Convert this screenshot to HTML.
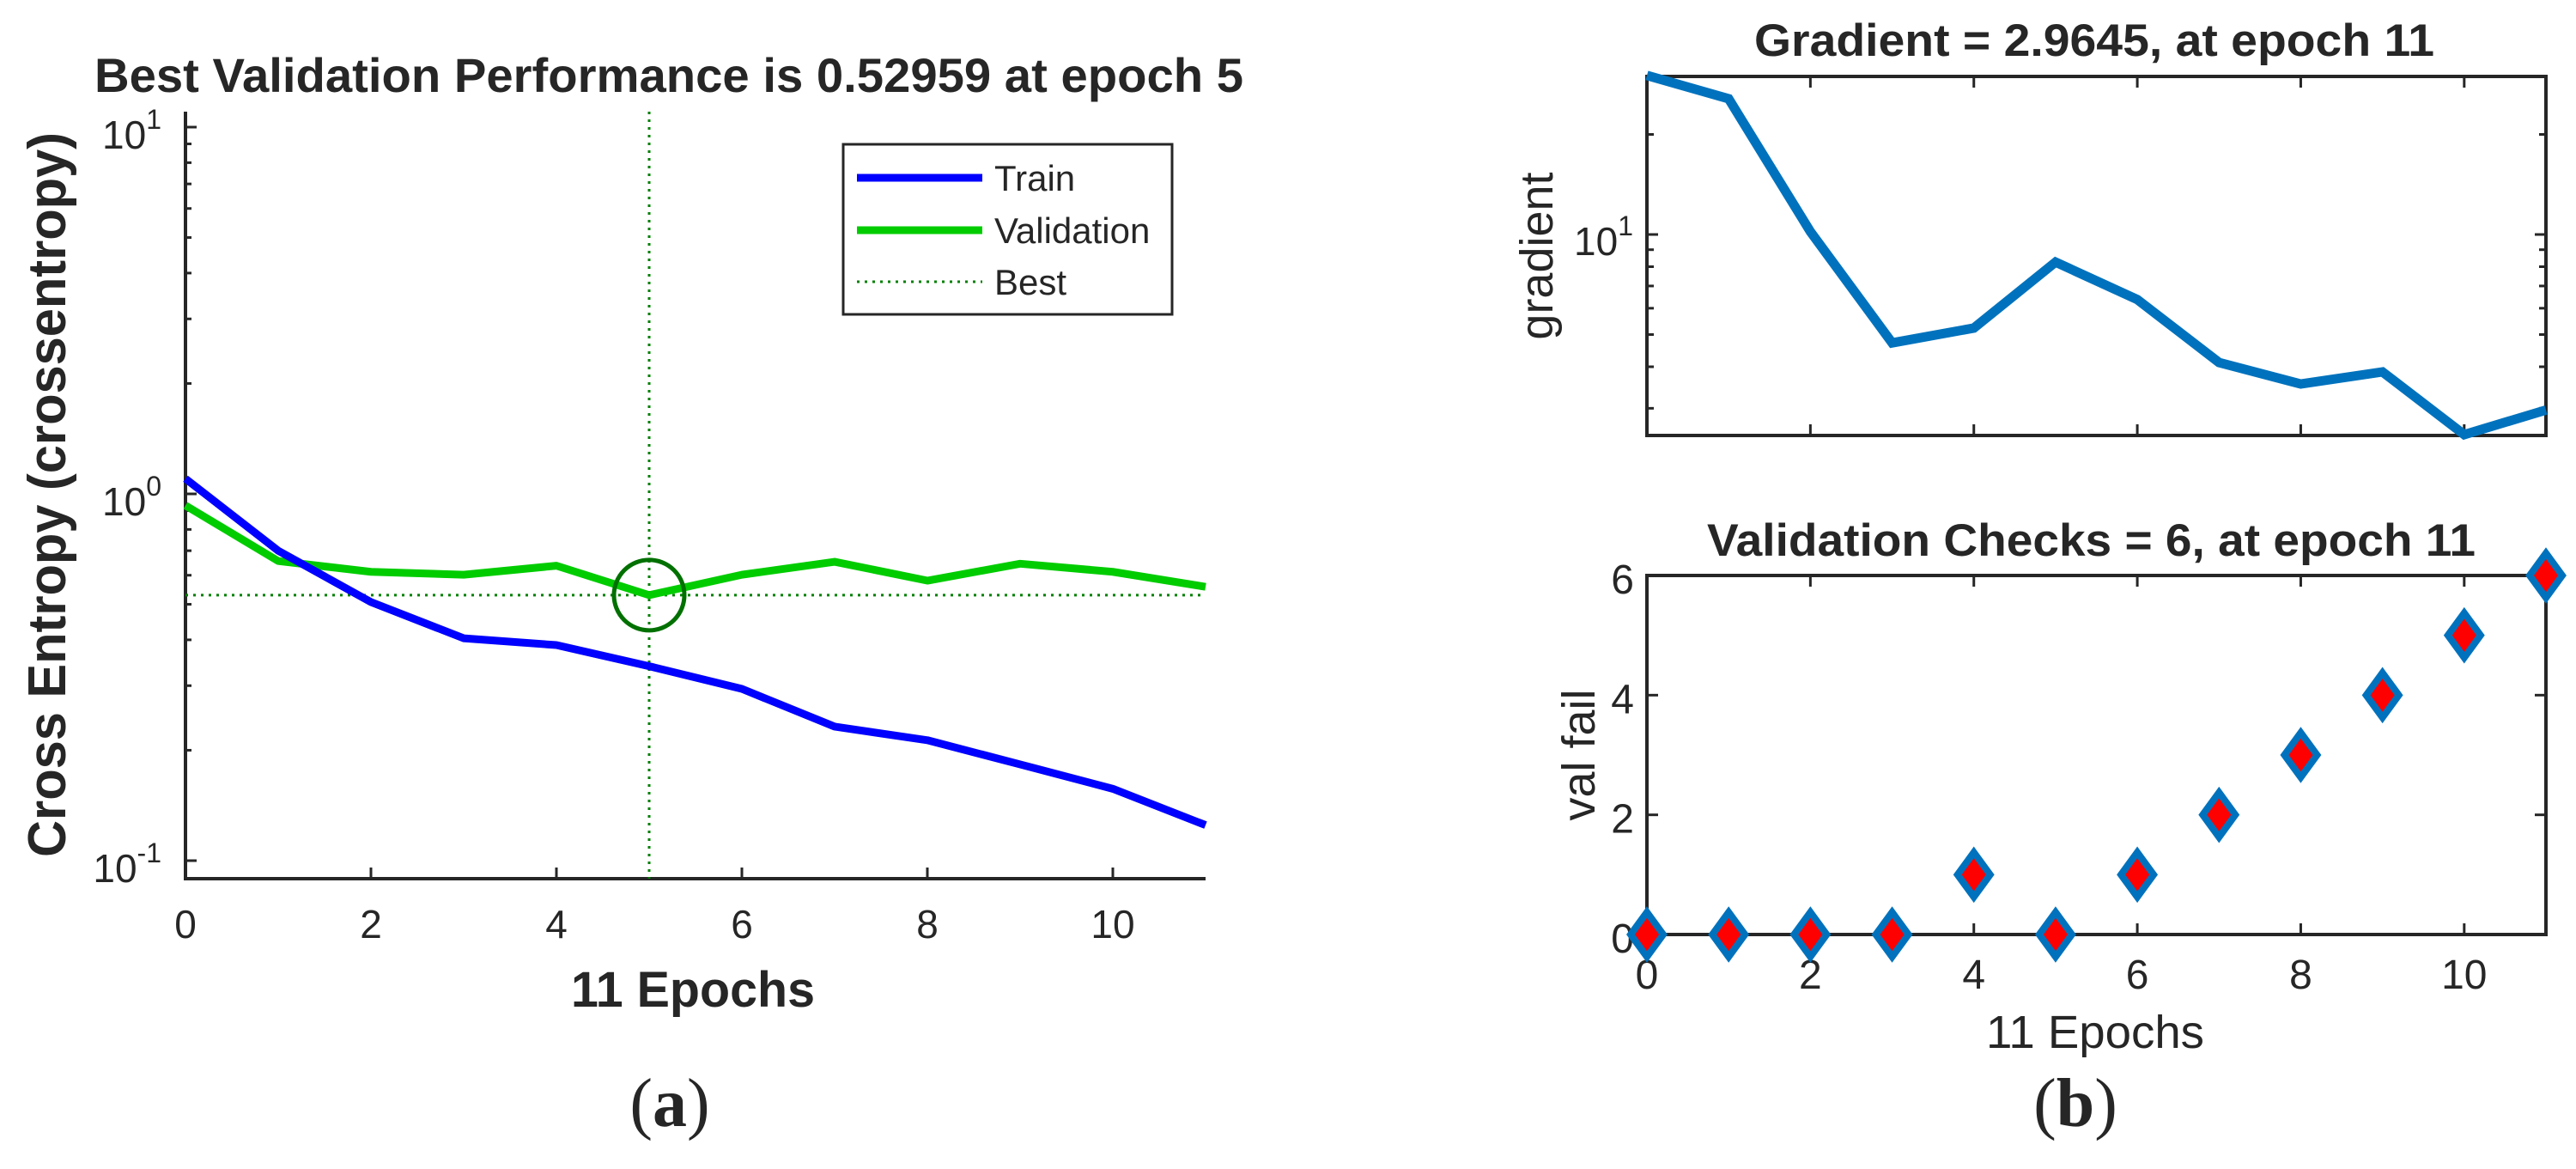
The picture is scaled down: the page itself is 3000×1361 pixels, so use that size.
<!DOCTYPE html>
<html><head><meta charset="utf-8"><style>
html,body{margin:0;padding:0;background:#fff}
svg{display:block}
text{font-family:"Liberation Sans",Arial,sans-serif;fill:#262626}
</style></head><body>
<svg id="fig" width="3000" height="1361" viewBox="0 0 3000 1361" xmlns="http://www.w3.org/2000/svg">
<g id="pa"></g>
<g id="pg"></g>
<g id="pv"></g>
</svg>
<script>
const epochs=[0,1,2,3,4,5,6,7,8,9,10,11];
const trainPerf=[1.10,0.70,0.507,0.404,0.387,0.339,0.294,0.232,0.213,0.183,0.157,0.125];
const valPerf=[0.93,0.656,0.613,0.602,0.637,0.52959,0.602,0.653,0.58,0.645,0.613,0.558];
const bestEpoch=5;
const bestPerf=0.52959;
const gradVals=[30.1,25.6,10.2,4.72,5.23,8.26,6.37,4.12,3.55,3.86,2.50,2.9645];
const valFail=[0,0,0,0,1,0,1,2,3,4,5,6];
const xTicks=[0,2,4,6,8,10];
const logTicksA=[-1,0,1];
const valTicks=[0,2,4,6];

const NS="http://www.w3.org/2000/svg";
function mk(parent,tag,attrs,txt){const e=document.createElementNS(NS,tag);for(const k in attrs)e.setAttribute(k,attrs[k]);if(txt!==undefined)e.textContent=txt;parent.appendChild(e);return e;}
const AX="#262626";

/* ---------- Panel (a) ---------- */
const pa=document.getElementById('pa');
const aL=216,aR=1404,aT=130,aB=1023;
const ax=v=>aL+(v-0)*(aR-aL)/11;
const ay=v=>575-Math.log10(v)*427;
for(let d=-1;d<=0;d++){for(let m=2;m<=9;m++){const y=ay(m*Math.pow(10,d));
 const t=mk(pa,'line',{x1:aL,x2:aL+7,y1:y,y2:y,stroke:AX,'stroke-width':3});
 }}
logTicksA.forEach(p=>{const y=ay(Math.pow(10,p));
 const t=mk(pa,'line',{x1:aL,x2:aL+13,y1:y,y2:y,stroke:AX,'stroke-width':3});
 
 const lb=mk(pa,'text',{x:188,y:y+25,'text-anchor':'end','font-size':46});
 
 lb.appendChild(document.createTextNode('10'));
 mk(lb,'tspan',{dy:-23,'font-size':32},String(p));});
xTicks.forEach(v=>{const x=ax(v);
 const t=mk(pa,'line',{x1:x,x2:x,y1:aB,y2:aB-13,stroke:AX,'stroke-width':3});
 
 const lb=mk(pa,'text',{x:x,y:1092,'text-anchor':'middle','font-size':46},String(v));
 });
let e=mk(pa,'path',{d:`M${aL},${aT} V${aB} H${aR}`,fill:'none',stroke:AX,'stroke-width':4});

e=mk(pa,'line',{x1:ax(bestEpoch),x2:ax(bestEpoch),y1:aT,y2:aB,stroke:'#008000','stroke-width':3,'stroke-dasharray':'3 6'});

e=mk(pa,'line',{x1:aL,x2:aR,y1:ay(bestPerf),y2:ay(bestPerf),stroke:'#008000','stroke-width':3,'stroke-dasharray':'3 6'});

e=mk(pa,'polyline',{points:epochs.map((x,i)=>ax(x)+','+ay(valPerf[i])).join(' '),fill:'none',stroke:'#00CC00','stroke-width':9,'stroke-linejoin':'round'});

e=mk(pa,'polyline',{points:epochs.map((x,i)=>ax(x)+','+ay(trainPerf[i])).join(' '),fill:'none',stroke:'#0000FF','stroke-width':9,'stroke-linejoin':'round'});

e=mk(pa,'circle',{cx:ax(bestEpoch),cy:ay(bestPerf),r:41,fill:'none',stroke:'#007000','stroke-width':5});

e=mk(pa,'text',{x:110,y:107,'font-size':56,'font-weight':'bold',fill:'#000',textLength:1338,lengthAdjust:'spacingAndGlyphs'},'Best Validation Performance is 0.52959 at epoch 5');

e=mk(pa,'text',{x:0,y:0,'font-size':62,'font-weight':'bold','text-anchor':'middle',transform:'translate(76,576) rotate(-90)',textLength:844,lengthAdjust:'spacingAndGlyphs'},'Cross Entropy  (crossentropy)');

e=mk(pa,'text',{x:807,y:1172,'font-size':58,'font-weight':'bold','text-anchor':'middle',textLength:284,lengthAdjust:'spacingAndGlyphs'},'11 Epochs');

e=mk(pa,'text',{x:780,y:1311,'font-size':80,'text-anchor':'middle',style:'font-family:"Liberation Serif",serif',fill:'#000'});

e.appendChild(document.createTextNode('('));mk(e,'tspan',{'font-weight':'bold'},'a');e.appendChild(document.createTextNode(')'));
const lg=mk(pa,'g',{});

e=mk(lg,'rect',{x:982,y:168,width:383,height:198,fill:'#fff',stroke:AX,'stroke-width':3});

const legItems=[['Train','#0000FF',207,false],['Validation','#00CC00',268,false],['Best','#008000',328,true]];
legItems.forEach(([n,c,y,dot])=>{
 const l=mk(lg,'line',dot?{x1:998,x2:1144,y1:y,y2:y,stroke:c,'stroke-width':3,'stroke-dasharray':'3 6'}:{x1:998,x2:1144,y1:y,y2:y,stroke:c,'stroke-width':9});
 
 const t=mk(lg,'text',{x:1158,y:y+15,'font-size':42,fill:'#000'},n);
 });

/* ---------- Panel (b) top: gradient ---------- */
const pg=document.getElementById('pg');
const bL=1918,bR=2965,gT=89,gB=507;
const bx=v=>bL+v*(bR-bL)/11;
const gy=v=>273-Math.log10(v/10)*387;
const gMinor=[3,4,5,6,7,8,9,20];
gMinor.forEach(v=>{const y=gy(v);
 e=mk(pg,'line',{x1:bL,x2:bL+8,y1:y,y2:y,stroke:AX,'stroke-width':3});
 
 e=mk(pg,'line',{x1:bR,x2:bR-8,y1:y,y2:y,stroke:AX,'stroke-width':3});
 });
[10].forEach(v=>{const y=gy(v);
 e=mk(pg,'line',{x1:bL,x2:bL+13,y1:y,y2:y,stroke:AX,'stroke-width':3});
 
 e=mk(pg,'line',{x1:bR,x2:bR-13,y1:y,y2:y,stroke:AX,'stroke-width':3});
 
 const lb=mk(pg,'text',{x:1902,y:y+24,'text-anchor':'end','font-size':46});
 
 lb.appendChild(document.createTextNode('10'));mk(lb,'tspan',{dy:-23,'font-size':32},'1');});
xTicks.forEach(v=>{const x=bx(v);
 e=mk(pg,'line',{x1:x,x2:x,y1:gB,y2:gB-13,stroke:AX,'stroke-width':3});
 
 e=mk(pg,'line',{x1:x,x2:x,y1:gT,y2:gT+13,stroke:AX,'stroke-width':3});
 });
e=mk(pg,'rect',{x:bL,y:gT,width:bR-bL,height:gB-gT,fill:'none',stroke:AX,'stroke-width':4});

e=mk(pg,'polyline',{points:epochs.map((x,i)=>bx(x)+','+gy(gradVals[i])).join(' '),fill:'none',stroke:'#0072BD','stroke-width':11,'stroke-linejoin':'miter'});

e=mk(pg,'text',{x:2043,y:65,'font-size':53,'font-weight':'bold',fill:'#000',textLength:792,lengthAdjust:'spacingAndGlyphs'},'Gradient = 2.9645, at epoch 11');

e=mk(pg,'text',{x:0,y:0,'font-size':54,'text-anchor':'middle',transform:'translate(1808,298) rotate(-90)'},'gradient');


/* ---------- Panel (b) bottom: validation checks ---------- */
const pv=document.getElementById('pv');
const vT=670,vB=1088;
const vy=v=>vB-v*(vB-vT)/6;
valTicks.forEach(v=>{const y=vy(v);
 e=mk(pv,'line',{x1:bL,x2:bL+13,y1:y,y2:y,stroke:AX,'stroke-width':3});
 
 e=mk(pv,'line',{x1:bR,x2:bR-13,y1:y,y2:y,stroke:AX,'stroke-width':3});
 
 e=mk(pv,'text',{x:1903,y:y+21,'text-anchor':'end','font-size':48},String(v));
 });
xTicks.forEach(v=>{const x=bx(v);
 e=mk(pv,'line',{x1:x,x2:x,y1:vB,y2:vB-13,stroke:AX,'stroke-width':3});
 
 e=mk(pv,'line',{x1:x,x2:x,y1:vT,y2:vT+13,stroke:AX,'stroke-width':3});
 
 e=mk(pv,'text',{x:x,y:1151,'text-anchor':'middle','font-size':48},String(v));
 });
e=mk(pv,'rect',{x:bL,y:vT,width:bR-bL,height:vB-vT,fill:'none',stroke:AX,'stroke-width':4});

epochs.forEach((x,i)=>{const cx=bx(x),cy=vy(valFail[i]);
 const d=mk(pv,'polygon',{points:`${cx},${cy-26} ${cx+19},${cy} ${cx},${cy+26} ${cx-19},${cy}`,fill:'#FF0000',stroke:'#0072BD','stroke-width':8,'stroke-linejoin':'miter'});
 });
e=mk(pv,'text',{x:1988,y:647,'font-size':53,'font-weight':'bold',fill:'#000',textLength:895,lengthAdjust:'spacingAndGlyphs'},'Validation Checks = 6, at epoch 11');

e=mk(pv,'text',{x:0,y:0,'font-size':54,'text-anchor':'middle',transform:'translate(1857,879) rotate(-90)'},'val fail');

e=mk(pv,'text',{x:2440,y:1220,'font-size':54,'text-anchor':'middle',textLength:254,lengthAdjust:'spacingAndGlyphs'},'11 Epochs');

e=mk(pv,'text',{x:2417,y:1311,'font-size':80,'text-anchor':'middle',style:'font-family:"Liberation Serif",serif',fill:'#000'});

e.appendChild(document.createTextNode('('));mk(e,'tspan',{'font-weight':'bold'},'b');e.appendChild(document.createTextNode(')'));
</script>
</body></html>
